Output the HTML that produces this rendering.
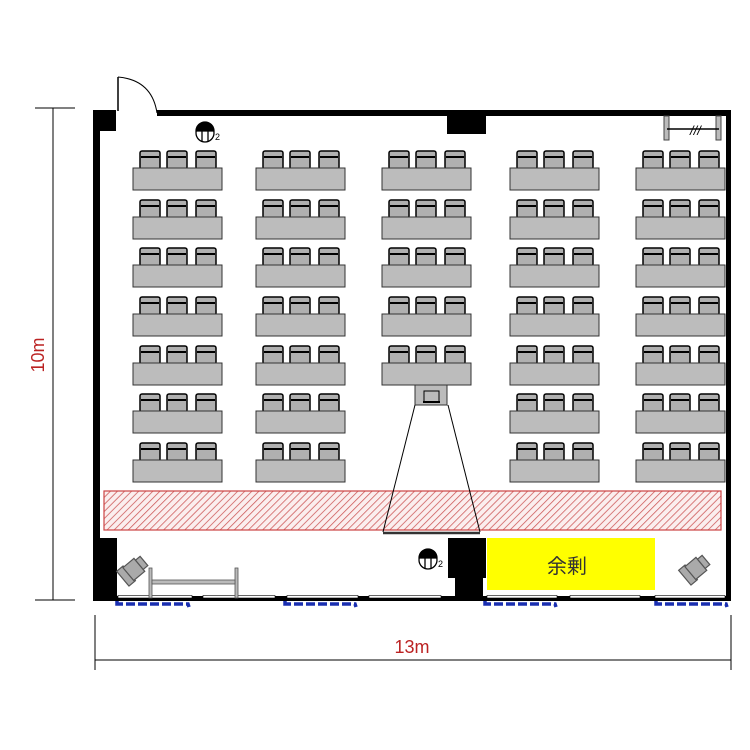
<!DOCTYPE html>
<html><head><meta charset="utf-8"><style>html,body{margin:0;padding:0;background:#fff}svg{display:block}</style></head>
<body>
<svg width="750" height="750" viewBox="0 0 750 750" xmlns="http://www.w3.org/2000/svg">
<defs>
<pattern id="h" width="5" height="5" patternUnits="userSpaceOnUse" patternTransform="rotate(45)">
<rect width="5" height="5" fill="#fbeeee"/><line x1="0" y1="0" x2="0" y2="5" stroke="#c55" stroke-width="1.5"/></pattern>
<g id="d">
<g stroke="#000" stroke-width="1.5" fill="#b0b0b0">
<rect x="7" y="-17" width="20" height="18" rx="2"/>
<rect x="34" y="-17" width="20" height="18" rx="2"/>
<rect x="63" y="-17" width="20" height="18" rx="2"/>
</g>
<g stroke="#000" stroke-width="2"><line x1="8" y1="-11" x2="26" y2="-11"/><line x1="35" y1="-11" x2="53" y2="-11"/><line x1="64" y1="-11" x2="82" y2="-11"/></g>
<rect x="0" y="0" width="89" height="22" fill="#bcbcbc" stroke="#333" stroke-width="1"/>
</g>
<g id="c"><g transform="rotate(-40) scale(1.2)" fill="#aaa" stroke="#555" stroke-width="1">
<rect x="-10" y="-8" width="7" height="16"/><rect x="-4" y="-7" width="12" height="14"/><rect x="8" y="-5" width="5" height="10"/></g></g>
</defs>

<g stroke="#000" stroke-width="1">
<line x1="53" y1="108" x2="53" y2="600"/><line x1="35" y1="108" x2="75" y2="108"/><line x1="35" y1="600" x2="75" y2="600"/>
<line x1="95" y1="660" x2="731" y2="660"/><line x1="95" y1="615" x2="95" y2="670"/><line x1="731" y1="615" x2="731" y2="670"/>
</g>
<text x="0" y="0" transform="translate(44,355) rotate(-90)" text-anchor="middle" font-family="Liberation Sans, sans-serif" font-size="18" fill="#b22">10m</text>
<text x="412" y="653" text-anchor="middle" font-family="Liberation Sans, sans-serif" font-size="18" fill="#b22">13m</text>

<rect x="93" y="110" width="7" height="491" fill="#000"/>
<rect x="93" y="110" width="23" height="21" fill="#000"/>
<rect x="157" y="110" width="574" height="6" fill="#000"/>
<rect x="726" y="110" width="5" height="491" fill="#000"/>
<rect x="93" y="596" width="638" height="5" fill="#000"/>
<g fill="#fff" stroke="#000" stroke-width="0.6">
<rect x="118" y="595.5" width="74" height="2.5"/><rect x="203" y="595.5" width="72" height="2.5"/>
<rect x="287" y="595.5" width="71" height="2.5"/><rect x="369" y="595.5" width="72" height="2.5"/>
<rect x="487" y="595.5" width="70" height="2.5"/><rect x="570" y="595.5" width="70" height="2.5"/>
<rect x="655" y="595.5" width="70" height="2.5"/>
</g>
<line x1="118" y1="77" x2="118" y2="111" stroke="#000" stroke-width="1.5"/>
<path d="M118 77 Q152 80 157 113" fill="none" stroke="#000" stroke-width="1"/>
<rect x="447" y="116" width="39" height="18" fill="#000"/>
<g fill="#bbb" stroke="#444" stroke-width="1"><rect x="664" y="116" width="5" height="24"/><rect x="716" y="116" width="5" height="24"/></g>
<line x1="667" y1="129" x2="719" y2="129" stroke="#000" stroke-width="1.5"/>
<text x="690" y="135" font-family="Liberation Sans, sans-serif" font-size="13" font-style="italic" fill="#000">///</text>

<g>
<use href="#d" x="133" y="168"/><use href="#d" x="256" y="168"/><use href="#d" x="382" y="168"/><use href="#d" x="510" y="168"/><use href="#d" x="636" y="168"/>
<use href="#d" x="133" y="217"/><use href="#d" x="256" y="217"/><use href="#d" x="382" y="217"/><use href="#d" x="510" y="217"/><use href="#d" x="636" y="217"/>
<use href="#d" x="133" y="265"/><use href="#d" x="256" y="265"/><use href="#d" x="382" y="265"/><use href="#d" x="510" y="265"/><use href="#d" x="636" y="265"/>
<use href="#d" x="133" y="314"/><use href="#d" x="256" y="314"/><use href="#d" x="382" y="314"/><use href="#d" x="510" y="314"/><use href="#d" x="636" y="314"/>
<use href="#d" x="133" y="363"/><use href="#d" x="256" y="363"/><use href="#d" x="382" y="363"/><use href="#d" x="510" y="363"/><use href="#d" x="636" y="363"/>
<use href="#d" x="133" y="411"/><use href="#d" x="256" y="411"/><use href="#d" x="510" y="411"/><use href="#d" x="636" y="411"/>
<use href="#d" x="133" y="460"/><use href="#d" x="256" y="460"/><use href="#d" x="510" y="460"/><use href="#d" x="636" y="460"/>
</g>
<rect x="415" y="385" width="32" height="20" fill="#bbb" stroke="#333" stroke-width="1"/>
<rect x="424" y="391" width="15" height="11" fill="#bbb" stroke="#000" stroke-width="1"/>
<line x1="423" y1="402" x2="440" y2="402" stroke="#000" stroke-width="2"/>

<rect x="104" y="491" width="617" height="39" fill="url(#h)" stroke="#c44" stroke-width="1.2"/>
<g stroke="#000" stroke-width="1"><line x1="415" y1="405" x2="383" y2="532"/><line x1="448" y1="405" x2="480" y2="532"/></g>
<line x1="383" y1="533" x2="480" y2="533" stroke="#333" stroke-width="2.5"/>

<g fill="#fff" stroke="#000" stroke-width="1.3">
<circle cx="205" cy="133" r="9"/><path d="M196 131 A9 9 0 0 1 214 131 Z" fill="#000"/>
<line x1="202" y1="131" x2="202" y2="141"/><line x1="208" y1="131" x2="208" y2="141"/>
<circle cx="428" cy="560" r="9"/><path d="M419 558 A9 9 0 0 1 437 558 Z" fill="#000"/>
<line x1="425" y1="558" x2="425" y2="568"/><line x1="431" y1="558" x2="431" y2="568"/>
</g>
<text x="215" y="140" font-family="Liberation Sans, sans-serif" font-size="9">2</text>
<text x="438" y="567" font-family="Liberation Sans, sans-serif" font-size="9">2</text>

<rect x="93" y="538" width="24" height="62" fill="#000"/>
<rect x="448" y="538" width="38" height="40" fill="#000"/>
<rect x="455" y="575" width="28" height="24" fill="#000"/>
<rect x="487" y="538" width="168" height="52" fill="#ffff00"/>
<text x="567" y="573" text-anchor="middle" font-family="Liberation Sans, 'Noto Sans CJK JP', sans-serif" font-size="20" fill="#333">余剰</text>

<g fill="#bbb" stroke="#555" stroke-width="0.8">
<rect x="149" y="568" width="3" height="30"/><rect x="235" y="568" width="3" height="30"/>
<rect x="152" y="580" width="83" height="4"/></g>
<use href="#c" x="132" y="571"/>
<use href="#c" x="694" y="570"/>

<g stroke="#1a2fb0" stroke-width="3.5" stroke-dasharray="9,3" fill="none">
<path d="M117 601 L117 604 L188 604 L189 607"/>
<path d="M285 601 L285 604 L355 604 L356 607"/>
<path d="M485 601 L485 604 L555 604 L556 607"/>
<path d="M656 601 L656 604 L726 604 L727 607"/>
</g>
</svg>
</body></html>
